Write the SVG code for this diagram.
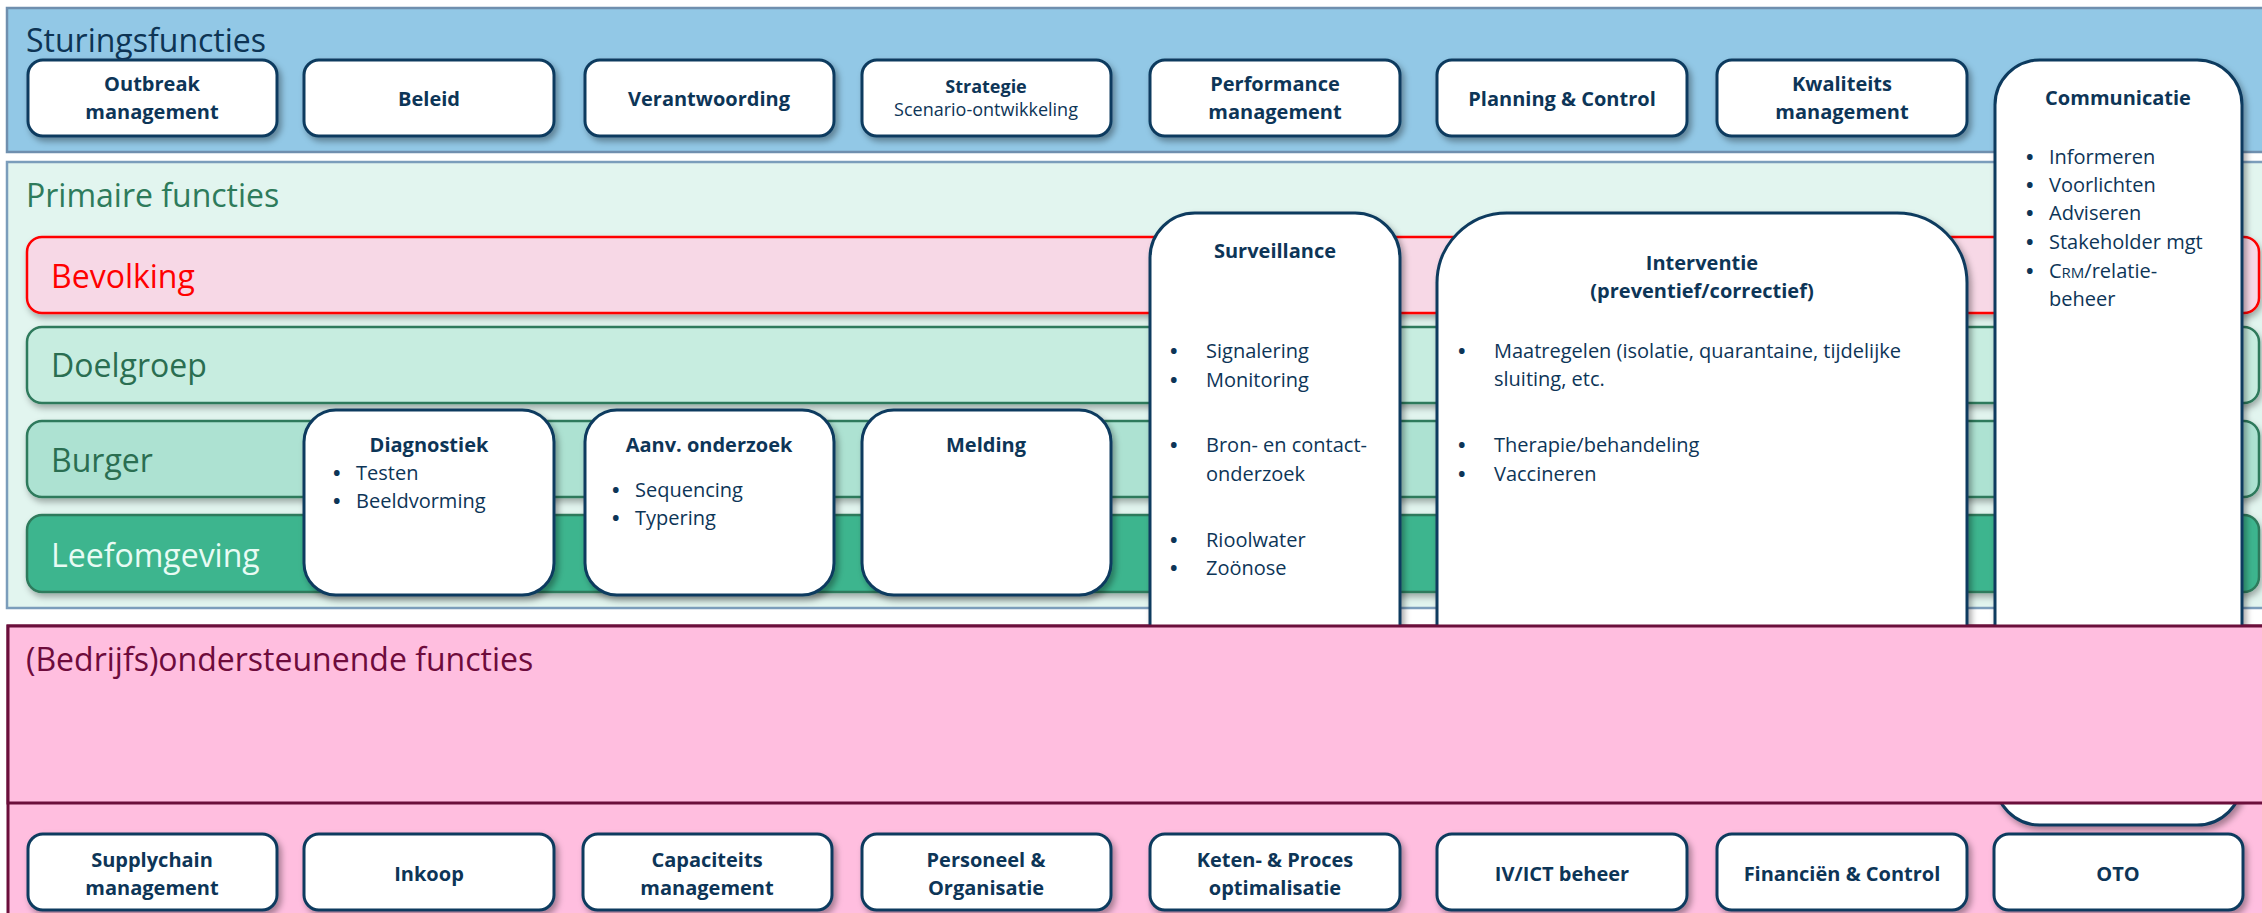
<svg xmlns="http://www.w3.org/2000/svg" width="2262" height="913" viewBox="0 0 2262 913">
<defs>
<filter id="sh" x="-5%" y="-10%" width="115%" height="130%">
<feDropShadow dx="3" dy="4" stdDeviation="3" flood-color="#000" flood-opacity="0.35"/>
</filter>
<filter id="shb" x="-2%" y="-20%" width="104%" height="150%">
<feDropShadow dx="2" dy="4" stdDeviation="3" flood-color="#000" flood-opacity="0.3"/>
</filter>
</defs>
<style>
text{font-family:"Open Sans","Noto Sans","Liberation Sans",sans-serif;}
.box{fill:#ffffff;stroke:#0e3b5e;stroke-width:3;filter:url(#sh);}
.bt{font-size:20px;font-weight:bold;fill:#0d3557;text-anchor:middle;}
.bl{font-size:20px;fill:#0d3557;}
.bu{font-size:20px;fill:#0d3557;font-weight:bold;}
.bs{font-size:18px;fill:#0d3557;text-anchor:middle;}
.ttl{font-size:32px;}
.bar{stroke-width:2.5;filter:url(#shb);}
</style>

<!-- Sturingsfuncties panel -->
<g id="sturing-panel">
<rect x="7" y="8" width="2270" height="144" fill="#92c8e6" stroke="#6f8fae" stroke-width="2.5"/>
<text x="26" y="52" class="ttl" fill="#0d3454">Sturingsfuncties</text>
</g>

<!-- Primaire functies panel -->
<g id="primair-panel">
<rect x="7" y="162" width="2270" height="446" fill="#e2f5ef" stroke="#7b9dbb" stroke-width="2.5"/>
<text x="26" y="207" class="ttl" fill="#2e7b5b">Primaire functies</text>
</g>

<!-- Ondersteunende background -->
<g id="ondersteunend-bg">
<rect x="8" y="626" width="2270" height="300" fill="#ffbedf" stroke="#6b0f3b" stroke-width="3"/>
</g>

<!-- Bars -->
<g id="bevolking">
<rect x="27" y="237" width="2232" height="76" rx="15" class="bar" fill="#f7d8e6" stroke="#ff0000"/>
<text x="51" y="288" class="ttl" fill="#ff0000">Bevolking</text>
</g>
<g id="doelgroep">
<rect x="27" y="327" width="2232" height="76" rx="15" class="bar" fill="#c7ede0" stroke="#2e7a5c"/>
<text x="51" y="377" class="ttl" fill="#2a6e51">Doelgroep</text>
</g>
<g id="burger">
<rect x="27" y="421" width="2232" height="76" rx="15" class="bar" fill="#ade2d2" stroke="#2e7a5c"/>
<text x="51" y="472" class="ttl" fill="#2a6e51">Burger</text>
</g>
<g id="leefomgeving">
<rect x="27" y="515" width="2232" height="77" rx="15" class="bar" fill="#3cb58e" stroke="#2e7a5c"/>
<text x="51" y="567" class="ttl" fill="#e8fbf4">Leefomgeving</text>
</g>

<!-- Top row boxes -->
<g id="outbreak">
<rect x="28" y="60" width="249" height="76" rx="15" class="box"/>
<text x="152" y="91" class="bt">Outbreak</text>
<text x="152" y="119" class="bt">management</text>
</g>
<g id="beleid">
<rect x="304" y="60" width="250" height="76" rx="15" class="box"/>
<text x="429" y="106" class="bt">Beleid</text>
</g>
<g id="verantwoording">
<rect x="585" y="60" width="249" height="76" rx="15" class="box"/>
<text x="709" y="106" class="bt">Verantwoording</text>
</g>
<g id="strategie">
<rect x="862" y="60" width="249" height="76" rx="15" class="box"/>
<text x="986" y="93" class="bs" font-weight="bold">Strategie</text>
<text x="986" y="116" class="bs">Scenario-ontwikkeling</text>
</g>
<g id="performance">
<rect x="1150" y="60" width="250" height="76" rx="15" class="box"/>
<text x="1275" y="91" class="bt">Performance</text>
<text x="1275" y="119" class="bt">management</text>
</g>
<g id="planning">
<rect x="1437" y="60" width="250" height="76" rx="15" class="box"/>
<text x="1562" y="106" class="bt">Planning &amp; Control</text>
</g>
<g id="kwaliteit">
<rect x="1717" y="60" width="250" height="76" rx="15" class="box"/>
<text x="1842" y="91" class="bt">Kwaliteits</text>
<text x="1842" y="119" class="bt">management</text>
</g>

<!-- Communicatie -->
<g id="communicatie">
<rect x="1995" y="60" width="247" height="765" rx="45" class="box"/>
<text x="2118" y="105" class="bt">Communicatie</text>
<text x="2026" y="164" class="bu">•</text><text x="2049" y="164" class="bl">Informeren</text>
<text x="2026" y="192" class="bu">•</text><text x="2049" y="192" class="bl">Voorlichten</text>
<text x="2026" y="220" class="bu">•</text><text x="2049" y="220" class="bl">Adviseren</text>
<text x="2026" y="249" class="bu">•</text><text x="2049" y="249" class="bl">Stakeholder mgt</text>
<text x="2026" y="278" class="bu">•</text><text x="2049" y="278" class="bl">C<tspan font-size="15">RM</tspan>/relatie-</text>
<text x="2049" y="306" class="bl">beheer</text>
</g>

<!-- Primary function boxes -->
<g id="diagnostiek">
<rect x="304" y="410" width="250" height="185" rx="32" class="box"/>
<text x="429" y="452" class="bt">Diagnostiek</text>
<text x="333" y="480" class="bu">•</text><text x="356" y="480" class="bl">Testen</text>
<text x="333" y="508" class="bu">•</text><text x="356" y="508" class="bl">Beeldvorming</text>
</g>
<g id="aanv-onderzoek">
<rect x="585" y="410" width="249" height="185" rx="32" class="box"/>
<text x="709" y="452" class="bt">Aanv. onderzoek</text>
<text x="612" y="497" class="bu">•</text><text x="635" y="497" class="bl">Sequencing</text>
<text x="612" y="525" class="bu">•</text><text x="635" y="525" class="bl">Typering</text>
</g>
<g id="melding">
<rect x="862" y="410" width="249" height="185" rx="32" class="box"/>
<text x="986" y="452" class="bt">Melding</text>
</g>
<g id="surveillance">
<rect x="1150" y="213" width="250" height="560" rx="45" class="box"/>
<text x="1275" y="258" class="bt">Surveillance</text>
<text x="1170" y="358" class="bu">•</text><text x="1206" y="358" class="bl">Signalering</text>
<text x="1170" y="387" class="bu">•</text><text x="1206" y="387" class="bl">Monitoring</text>
<text x="1170" y="452" class="bu">•</text><text x="1206" y="452" class="bl">Bron- en contact-</text>
<text x="1206" y="481" class="bl">onderzoek</text>
<text x="1170" y="547" class="bu">•</text><text x="1206" y="547" class="bl">Rioolwater</text>
<text x="1170" y="575" class="bu">•</text><text x="1206" y="575" class="bl">Zoönose</text>
</g>
<g id="interventie">
<rect x="1437" y="213" width="530" height="560" rx="70" class="box"/>
<text x="1702" y="270" class="bt">Interventie</text>
<text x="1702" y="298" class="bt">(preventief/correctief)</text>
<text x="1458" y="358" class="bu">•</text><text x="1494" y="358" class="bl">Maatregelen (isolatie, quarantaine, tijdelijke</text>
<text x="1494" y="386" class="bl">sluiting, etc.</text>
<text x="1458" y="452" class="bu">•</text><text x="1494" y="452" class="bl">Therapie/behandeling</text>
<text x="1458" y="481" class="bu">•</text><text x="1494" y="481" class="bl">Vaccineren</text>
</g>

<!-- Ondersteunende header -->
<g id="ondersteunend-header">
<rect x="8" y="626" width="2270" height="177" fill="#ffbedf" stroke="#6b0f3b" stroke-width="3"/>
<text x="26" y="671" class="ttl" fill="#6e0b3c">(Bedrijfs)ondersteunende functies</text>
</g>

<!-- Bottom row boxes -->
<g id="supplychain">
<rect x="28" y="834" width="249" height="76" rx="15" class="box"/>
<text x="152" y="867" class="bt">Supplychain</text>
<text x="152" y="895" class="bt">management</text>
</g>
<g id="inkoop">
<rect x="304" y="834" width="250" height="76" rx="15" class="box"/>
<text x="429" y="881" class="bt">Inkoop</text>
</g>
<g id="capaciteit">
<rect x="583" y="834" width="249" height="76" rx="15" class="box"/>
<text x="707" y="867" class="bt">Capaciteits</text>
<text x="707" y="895" class="bt">management</text>
</g>
<g id="personeel">
<rect x="862" y="834" width="249" height="76" rx="15" class="box"/>
<text x="986" y="867" class="bt">Personeel &amp;</text>
<text x="986" y="895" class="bt">Organisatie</text>
</g>
<g id="keten">
<rect x="1150" y="834" width="250" height="76" rx="15" class="box"/>
<text x="1275" y="867" class="bt">Keten- &amp; Proces</text>
<text x="1275" y="895" class="bt">optimalisatie</text>
</g>
<g id="ivict">
<rect x="1437" y="834" width="250" height="76" rx="15" class="box"/>
<text x="1562" y="881" class="bt">IV/ICT beheer</text>
</g>
<g id="financien">
<rect x="1717" y="834" width="250" height="76" rx="15" class="box"/>
<text x="1842" y="881" class="bt">Financiën &amp; Control</text>
</g>
<g id="oto">
<rect x="1994" y="834" width="249" height="76" rx="15" class="box"/>
<text x="2118" y="881" class="bt">OTO</text>
</g>

<g id="connectors"></g>
</svg>
